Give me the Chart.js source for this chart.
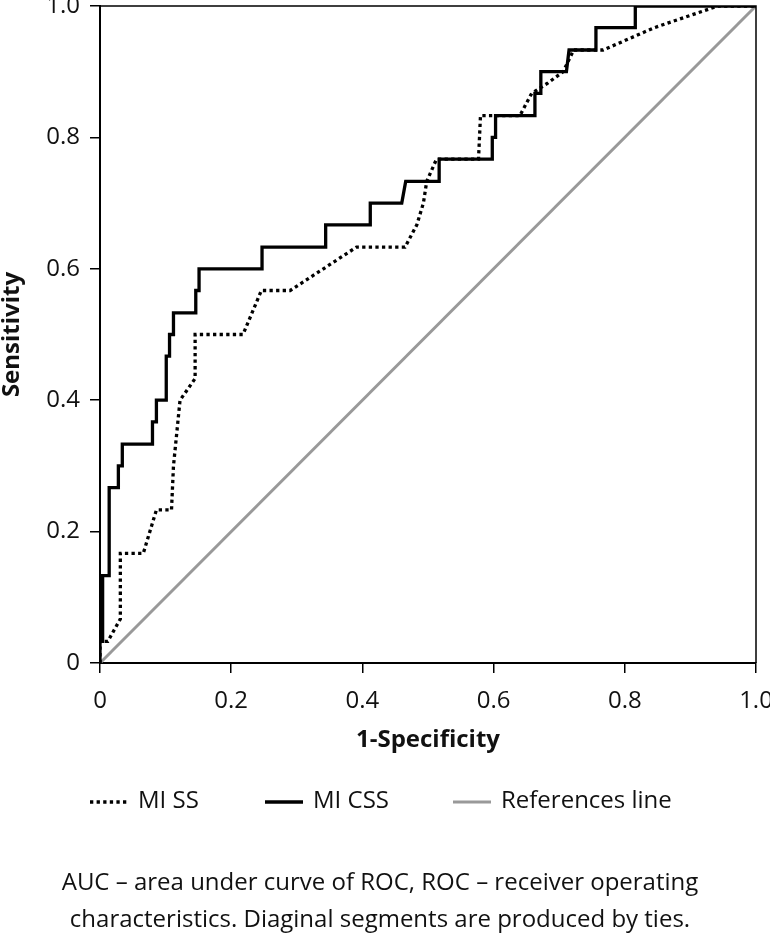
<!DOCTYPE html>
<html>
<head>
<meta charset="utf-8">
<script src="https://cdn.jsdelivr.net/npm/chart.js@4.4.1/dist/chart.umd.min.js"></script>
<style>
html,body{margin:0;padding:0;background:#fff;}
#wrap{width:770px;height:935px;position:relative;}
</style>
</head>
<body>
<div id="wrap"><canvas id="c" width="770" height="935"></canvas></div>
<script>
// ---- data ----
const seriesNames = ['MI SS', 'MI CSS', 'References line'];

const miSsFpr  = [0,0,0.012,0.031,0.031,0.066,0.086,0.109,0.112,0.122,0.145,0.145,0.218,0.246,0.290,0.391,0.465,0.483,0.493,0.498,0.513,0.577,0.580,0.640,0.658,0.683,0.706,0.722,0.767,0.845,0.942,1];
const miSsSens = [0,0.033,0.033,0.067,0.167,0.167,0.233,0.233,0.3,0.4,0.433,0.5,0.5,0.567,0.567,0.633,0.633,0.667,0.7,0.733,0.767,0.767,0.833,0.833,0.867,0.883,0.9,0.933,0.933,0.967,1,1];

const miCssFpr  = [0,0,0.004,0.004,0.014,0.014,0.028,0.028,0.034,0.034,0.080,0.080,0.086,0.086,0.101,0.101,0.106,0.106,0.112,0.112,0.146,0.146,0.151,0.151,0.247,0.247,0.344,0.344,0.412,0.412,0.460,0.466,0.517,0.517,0.598,0.598,0.603,0.603,0.663,0.663,0.672,0.672,0.711,0.715,0.756,0.756,0.816,0.816,1];
const miCssSens = [0,0.033,0.033,0.133,0.133,0.267,0.267,0.3,0.3,0.333,0.333,0.367,0.367,0.4,0.4,0.467,0.467,0.5,0.5,0.533,0.533,0.567,0.567,0.6,0.6,0.633,0.633,0.667,0.667,0.7,0.7,0.733,0.733,0.767,0.767,0.8,0.8,0.833,0.833,0.867,0.867,0.9,0.9,0.933,0.933,0.967,0.967,1,1];

const refFpr  = [0, 1];
const refSens = [0, 1];

const tickValues = [0, 0.2, 0.4, 0.6, 0.8, 1.0];
const tickLabels = ['0', '0.2', '0.4', '0.6', '0.8', '1.0'];
const xTitle = '1-Specificity';
const yTitle = 'Sensitivity';
const captionLines = [
  'AUC \u2013 area under curve of ROC, ROC \u2013 receiver operating',
  'characteristics. Diaginal segments are produced by ties.'
];

// ---- helpers ----
const toPoints = (xs, ys) => xs.map((x, i) => ({x: x, y: ys[i]}));
const FONT = '"Open Sans", "Liberation Sans", sans-serif';
const FS = 24;
const TXT = '#111';

const frameAndLegend = {
  id: 'frameAndLegend',
  afterDraw(chart) {
    const ctx = chart.ctx;
    const a = chart.chartArea;
    ctx.save();
    // top and right frame
    ctx.strokeStyle = '#000';
    ctx.lineWidth = 1.5;
    ctx.beginPath();
    ctx.moveTo(a.left, a.top);
    ctx.lineTo(a.right, a.top);
    ctx.lineTo(a.right, a.bottom);
    ctx.stroke();

    // legend
    const legendX = [90, 265, 453];
    const legendY = 801;
    const sampleLen = 38;
    ctx.font = FS + 'px ' + FONT;
    ctx.textBaseline = 'middle';
    ctx.textAlign = 'left';
    chart.data.datasets.forEach((ds, i) => {
      const x0 = legendX[i];
      ctx.save();
      ctx.strokeStyle = ds.borderColor;
      ctx.lineWidth = ds.borderWidth;
      ctx.setLineDash(ds.borderDash || []);
      ctx.beginPath();
      ctx.moveTo(x0, legendY + 1);
      ctx.lineTo(x0 + sampleLen, legendY + 1);
      ctx.stroke();
      ctx.restore();
      ctx.fillStyle = TXT;
      ctx.fillText(ds.label, x0 + sampleLen + 10, legendY);
    });

    // caption
    ctx.textAlign = 'center';
    captionLines.forEach((t, i) => {
      ctx.fillText(t, 380, 883 + i * 37);
    });
    ctx.restore();
  }
};

new Chart(document.getElementById('c'), {
  type: 'scatter',
  data: {
    datasets: [
      {
        label: seriesNames[0],
        data: toPoints(miSsFpr, miSsSens),
        showLine: true,
        borderColor: '#000',
        borderWidth: 3.3,
        borderDash: [3.3, 3.3],
        pointRadius: 0,
        tension: 0,
        order: 2
      },
      {
        label: seriesNames[1],
        data: toPoints(miCssFpr, miCssSens),
        showLine: true,
        borderColor: '#000',
        borderWidth: 3.3,
        pointRadius: 0,
        tension: 0,
        order: 1
      },
      {
        label: seriesNames[2],
        data: toPoints(refFpr, refSens),
        showLine: true,
        borderColor: '#999999',
        borderWidth: 3,
        pointRadius: 0,
        tension: 0,
        order: 3
      }
    ]
  },
  options: {
    responsive: false,
    animation: false,
    devicePixelRatio: 1,
    layout: { padding: { top: 6, right: 14, bottom: 172, left: 0 } },
    plugins: {
      legend: { display: false },
      tooltip: { enabled: false }
    },
    scales: {
      x: {
        type: 'linear',
        min: 0,
        max: 1,
        afterBuildTicks: (s) => { s.ticks = tickValues.map(v => ({value: v})); },
        afterFit: (s) => { s.height = 100; s.paddingLeft = 0; s.paddingRight = 0; },
        ticks: {
          callback: (v) => tickLabels[tickValues.indexOf(Math.round(v * 10) / 10)],
          font: { family: FONT, size: FS },
          color: TXT,
          padding: 14,
          maxRotation: 0,
          autoSkip: false
        },
        grid: { drawOnChartArea: false, drawTicks: true, tickLength: 10, color: '#000', lineWidth: 1.5 },
        border: { display: true, color: '#000', width: 2 },
        title: {
          display: true,
          text: xTitle,
          color: TXT,
          font: { family: FONT, size: FS, weight: 'bold', lineHeight: 1.0 },
          padding: { top: 0, bottom: 11 }
        }
      },
      y: {
        type: 'linear',
        min: 0,
        max: 1,
        afterBuildTicks: (s) => { s.ticks = tickValues.map(v => ({value: v})); },
        afterFit: (s) => { s.width = 100; s.paddingTop = 0; s.paddingBottom = 0; },
        ticks: {
          callback: (v) => tickLabels[tickValues.indexOf(Math.round(v * 10) / 10)],
          font: { family: FONT, size: FS },
          color: TXT,
          padding: 10,
          autoSkip: false
        },
        grid: { drawOnChartArea: false, drawTicks: true, tickLength: 10, color: '#000', lineWidth: 1.5 },
        border: { display: true, color: '#000', width: 2 },
        title: {
          display: true,
          text: yTitle,
          color: TXT,
          font: { family: FONT, size: FS, weight: 'bold', lineHeight: 1.0 },
          padding: { top: 0, bottom: 0 }
        }
      }
    }
  },
  plugins: [frameAndLegend]
});
</script>
</body>
</html>
